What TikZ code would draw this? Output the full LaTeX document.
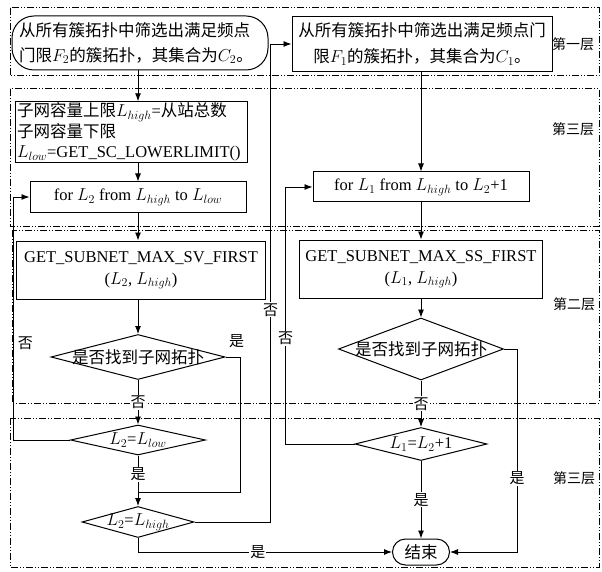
\documentclass[tikz,border=0pt]{standalone}
\usepackage{fontspec}
\setmainfont{Liberation Serif}
\newfontfamily\cjk{Noto Sans CJK SC}
\newcommand{\zh}[1]{{\cjk #1}}
\usepackage{tikz}
\usetikzlibrary{shapes,arrows,arrows.meta,positioning,calc}

\tikzset{
  base/.style={font=\fontsize{16.5}{20}\selectfont, inner sep=1pt},
  proc/.style={base, rectangle, draw, line width=1pt, align=center},
  term/.style={base, rectangle, draw, line width=1pt, rounded corners=13pt},
  decide/.style={base, diamond, draw, line width=1pt, inner sep=0pt, aspect=1},
  layer/.style={line width=1pt, dash pattern=on 7pt off 2pt on 1pt off 2pt on 1pt off 2pt},
  tag/.style={font=\fontsize{14}{16}\selectfont\cjk},
  yesno/.style={font=\fontsize{15}{17}\selectfont\cjk, fill=white, inner sep=1pt},
  flow/.style={-{Latex[length=8pt,width=6pt]}, line width=0.9pt}
}

\begin{document}
\begin{tikzpicture}[x=1pt,y=-1pt]
    \useasboundingbox (0,0) rectangle (602,572);

    % Layer frames
    \draw[layer] (10,8) rectangle (599,76);
    \draw[layer] (10,89) rectangle (599,226);
    \draw[layer] (12,230) rectangle (599,403);
    \draw[layer] (10,418) rectangle (599,567);
    \node[tag] (lay1) at (573,44) {第一层};
    \node[tag] (lay3a) at (573,129) {第三层};
    \node[tag] (lay2) at (574,304) {第二层};
    \node[tag] (lay3b) at (574,478) {第三层};

    % Left branch (F2 / C2)
    \node[term, rounded corners=22pt, minimum width=256pt, minimum height=54pt, text width=242pt, align=left, font=\fontsize{16.5}{25}\selectfont] (startB) at (140,43) {\zh{从所有簇拓扑中筛选出满足频点}\\\zh{门限}$F_2$\zh{的簇拓扑，其集合为}$C_2$\zh{。}};
    \node[proc, minimum width=232pt, minimum height=60pt, text width=228pt, align=left, font=\fontsize{16.5}{20.5}\selectfont] (init) at (131,132) {\zh{子网容量上限}$L_{high}$=\zh{从站总数}\\\zh{子网容量下限}\\$L_{low}$=GET\_SC\_LOWERLIMIT()};
    \node[proc, minimum width=216pt, minimum height=30pt] (forL2) at (138,197) {for $L_2$ from $L_{high}$ to $L_{low}$};
    \node[proc, minimum width=249pt, minimum height=58pt, font=\fontsize{16.5}{22}\selectfont] (getSV) at (141,270) {GET\_SUBNET\_MAX\_SV\_FIRST\\($L_2$, $L_{high}$)};
    \node[decide, minimum width=174pt, minimum height=45pt] (findSV) at (138,357) {\makebox[0pt]{\zh{是否找到子网拓扑}}};
    \node[decide, minimum width=135pt, minimum height=30pt] (lowChk) at (138,440) {\makebox[0pt]{$L_2$=$L_{low}$}};
    \node[decide, minimum width=112pt, minimum height=31pt] (highChk) at (138,522) {\makebox[0pt]{$L_2$=$L_{high}$}};

    % Right branch (F1 / C1)
    \node[proc, minimum width=260pt, minimum height=55pt, font=\fontsize{16.5}{26}\selectfont] (startA) at (422,44) {\zh{从所有簇拓扑中筛选出满足频点门}\\\zh{限}$F_1$\zh{的簇拓扑，其集合为}$C_1$\zh{。}};
    \node[proc, minimum width=216pt, minimum height=30pt] (forL1) at (421,187) {for $L_1$ from $L_{high}$ to $L_2$+1};
    \node[proc, minimum width=243pt, minimum height=58pt, font=\fontsize{16.5}{22}\selectfont] (getSS) at (421,269) {GET\_SUBNET\_MAX\_SS\_FIRST\\($L_1$, $L_{high}$)};
    \node[decide, minimum width=165pt, minimum height=62pt] (findSS) at (421,349) {\makebox[0pt]{\zh{是否找到子网拓扑}}};
    \node[decide, minimum width=132pt, minimum height=33pt] (l1Chk) at (421,444) {\makebox[0pt]{$L_1$=$L_2$+1}};
    \node[term, minimum width=57pt, minimum height=26pt] (stop) at (421,552) {\zh{结束}};

    % Left flow
    \coordinate (joinL) at (138,492);
    \draw[flow] (startB.south -| forL2) -- (init.north -| forL2);
    \draw[flow] (init.south -| forL2) -- (forL2.north);
    \draw[flow] (forL2.south) -- (getSV.north -| forL2);
    \draw[flow] (getSV.south -| findSV) -- (findSV.north);
    \draw[flow] (findSV.south) -- node[yesno] {否} (lowChk.north);
    \draw[flow] (lowChk.south) -- node[yesno, pos=.37] {是} (highChk.north);
    \draw[line width=0.9pt] (findSV.east) -- ++(15,0) node[font=\fontsize{15}{17}\selectfont\cjk, above=9pt, xshift=-4pt, inner sep=0pt] {是} |- (joinL);
    \draw[flow] (lowChk.west) -- ++(-57,0) |- node[font=\fontsize{15}{17}\selectfont\cjk, pos=.2, right=1pt] {否} (forL2.west);
    \draw[flow] (highChk.east) -- ++(76,0) |- node[yesno, pos=.222] {否} (startA.west);
    \draw[flow] (highChk.south) |- node[yesno, pos=.736] {是} (stop.west);

    % Right flow
    \draw[flow] (startA.south -| forL1) -- (forL1.north);
    \draw[flow] (forL1.south) -- (getSS.north);
    \draw[flow] (getSS.south) -- (findSS.north);
    \draw[flow] (findSS.south) -- node[yesno] {否} (l1Chk.north);
    \draw[flow] (l1Chk.south) -- node[yesno] {是} (stop.north);
    \draw[flow] (findSS.east) -- ++(13,0) |- node[yesno, pos=.318] {是} (stop.east);
    \draw[flow] (l1Chk.west) -- ++(-69,0) |- node[yesno, pos=.206] {否} (forL1.west);
\end{tikzpicture}
\end{document}
